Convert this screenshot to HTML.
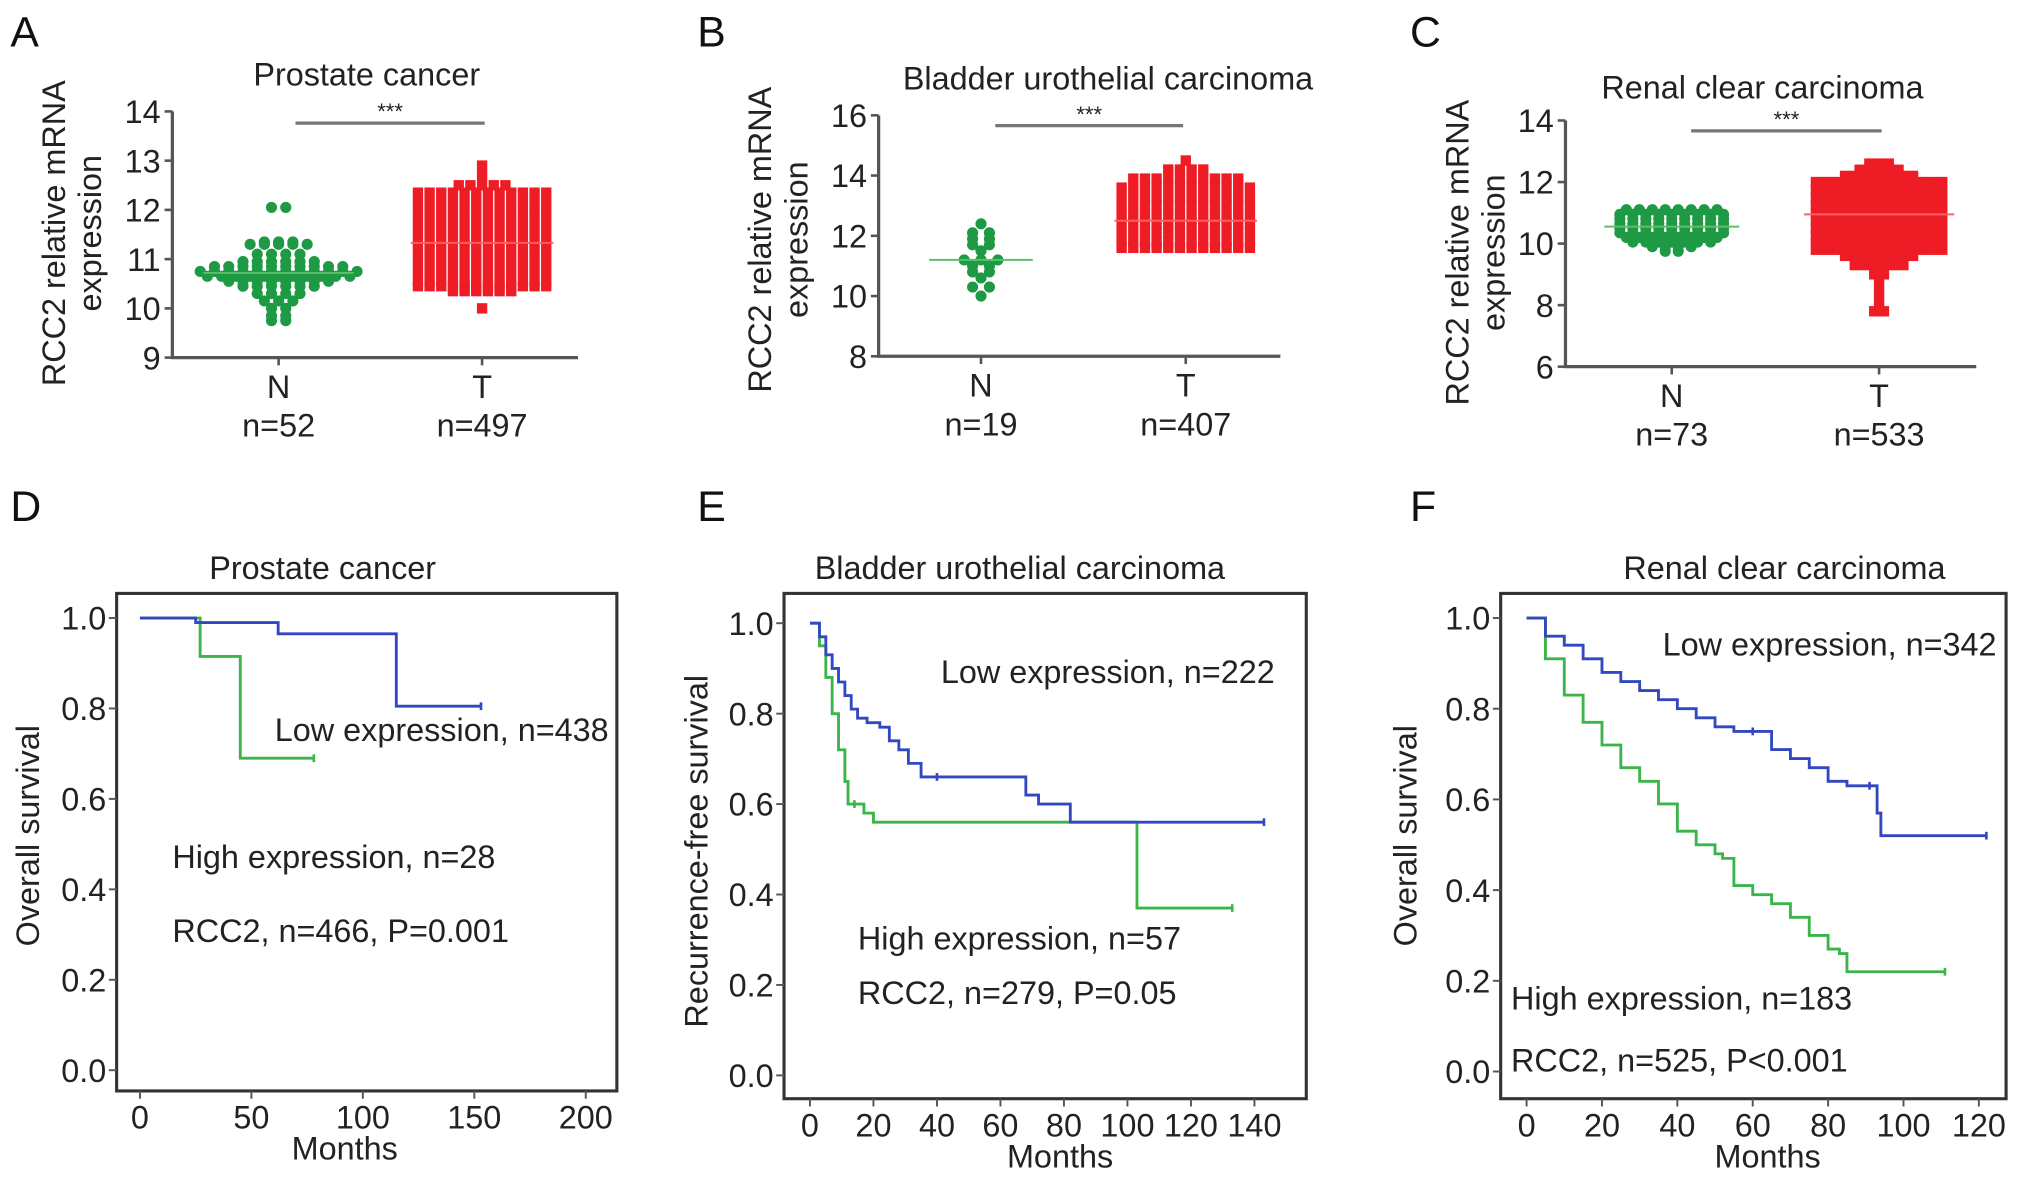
<!DOCTYPE html>
<html><head><meta charset="utf-8"><style>
html,body{margin:0;padding:0;background:#fff;}
svg{display:block;font-family:"Liberation Sans",Arial,sans-serif;}
</style></head><body>
<svg id="fig" width="2032" height="1192" viewBox="0 0 1568 920" preserveAspectRatio="none" xmlns="http://www.w3.org/2000/svg">
<rect width="1568" height="920" fill="#fff"/>
<g font-size="33" fill="#111">
<text x="8" y="36">A</text>
<text x="538" y="36">B</text>
<text x="1088" y="36">C</text>
<text x="8" y="402">D</text>
<text x="538" y="402">E</text>
<text x="1088" y="402">F</text>
</g>
<g id="plots"></g>
</svg>
<script>
// ---------- scatter data (bin value, count) ----------
const aNVals=[12.05,11.35,11.3,11.1,10.95,10.85,10.75,10.65,10.55,10.45,10.3,10.15,10.0,9.85,9.75];
const aNCounts=[2,3,5,4,6,10,12,11,8,6,4,3,2,2,2];
const aTVals=[12.9,12.7,12.5,12.35,12.15,11.95,11.75,11.55,11.35,11.15,10.95,10.75,10.55,10.45,10.35,10.0];
const aTCounts=[1,1,5,12,12,12,12,12,12,12,12,12,12,12,6,1];
const bNVals=[12.4,12.1,11.9,11.7,11.5,11.2,11.0,10.8,10.6,10.3,10.0];
const bNCounts=[1,2,2,2,1,3,2,2,1,2,1];
const bTVals=[14.5,14.2,13.9,13.6,13.3,13.0,12.7,12.4,12.1,11.8,11.6];
const bTCounts=[1,4,10,12,12,12,12,12,12,12,12];
const cNVals=[11.1,10.95,10.8,10.65,10.5,10.35,10.2,10.05,9.9,9.75];
const cNCounts=[8,9,9,9,9,9,8,7,4,2];
const cTVals=[12.6,12.4,12.2,12.0,11.75,11.5,11.25,11.0,10.75,10.5,10.25,10.0,9.8,9.6,9.3,9.0,8.7,8.4,8.1,7.8];
const cTCounts=[3,5,8,14,14,14,14,14,14,14,14,14,14,8,6,2,1,1,1,2];
const aMeans=[10.72,11.33], bMeans=[11.2,12.5], cMeans=[10.55,10.95];
const aTicks=[9,10,11,12,13,14], bTicks=[8,10,12,14,16], cTicks=[6,8,10,12,14];

// ---------- survival data ----------
const dLowT=[0,25,62,115,153], dLowS=[1,0.99,0.965,0.805,0.805];
const dHighT=[0,27,45,78], dHighS=[1,0.915,0.69,0.69];
const eLowT=[0,3,5,7,9,11,13,15,18,22,25,28,31,35,40,68,72,82,143];
const eLowS=[1,0.97,0.93,0.9,0.87,0.84,0.81,0.79,0.78,0.77,0.74,0.72,0.69,0.66,0.66,0.62,0.6,0.56,0.56];
const eHighT=[0,3,5,7,9,11,12,14,17,20,103,133];
const eHighS=[1,0.95,0.88,0.8,0.72,0.65,0.6,0.6,0.58,0.56,0.37,0.37];
const fLowT=[0,5,10,15,20,25,30,35,40,45,50,55,60,65,70,75,80,85,91,93,94,122];
const fLowS=[1,0.96,0.94,0.91,0.88,0.86,0.84,0.82,0.8,0.78,0.76,0.75,0.75,0.71,0.69,0.67,0.64,0.63,0.63,0.57,0.52,0.52];
const fHighT=[0,5,10,15,20,25,30,35,40,45,50,52,55,60,65,70,75,80,83,85,111];
const fHighS=[1,0.91,0.83,0.77,0.72,0.67,0.64,0.59,0.53,0.5,0.48,0.47,0.41,0.39,0.37,0.34,0.3,0.27,0.26,0.22,0.22];

const NS="http://www.w3.org/2000/svg";
const root=document.getElementById('plots');
const FS=25;
function el(tag,attrs,parent){const e=document.createElementNS(NS,tag);for(const k in attrs)e.setAttribute(k,attrs[k]);(parent||root).appendChild(e);return e;}
function txt(s,x,y,size,anchor,parent,rot){const t=el('text',{x:x,y:y,'font-size':size,'text-anchor':anchor||'start',fill:'#222'},parent);if(rot)t.setAttribute('transform','rotate(-90 '+x+' '+y+')');t.textContent=s;return t;}

function scatterPanel(cfg){
  const g=el('g',{});
  
  
  const y=v=>cfg.y0+(v-cfg.tmin)/(cfg.tmax-cfg.tmin)*(cfg.y1-cfg.y0);
  const ax=el('path',{d:`M${cfg.ax} ${y(cfg.tmax)} V${cfg.y0} H${cfg.xe}`,stroke:'#555','stroke-width':2.5,fill:'none'},g);
  
  
  cfg.ticks.forEach(v=>{el('line',{x1:cfg.ax-6,x2:cfg.ax,y1:y(v),y2:y(v),stroke:'#555','stroke-width':2},g);
    const t=txt(String(v),cfg.ax-9,y(v)+9,FS,'end',g);});
  [cfg.nx,cfg.tx].forEach(x=>el('line',{x1:x,x2:x,y1:cfg.y0,y2:cfg.y0+6,stroke:'#555','stroke-width':2},g));
  const tt=txt(cfg.title,cfg.titleX,cfg.titleY,FS,'middle',g);
  
  el('line',{x1:cfg.sig[0],x2:cfg.sig[1],y1:cfg.sig[2],y2:cfg.sig[2],stroke:'#777','stroke-width':2.5},g);
  const st=txt('***',(cfg.sig[0]+cfg.sig[1])/2,cfg.sig[2]-3,17,'middle',g);
  const yl=txt('RCC2 relative mRNA',cfg.ylx,cfg.yly,FS,'middle',g,true);
  txt('expression',cfg.ylx+28,cfg.yly,FS,'middle',g,true);
  txt('N',cfg.nx,cfg.y0+31,FS,'middle',g);txt('T',cfg.tx,cfg.y0+31,FS,'middle',g);
  txt(cfg.nl,cfg.nx,cfg.y0+61,FS,'middle',g);txt(cfg.tl,cfg.tx,cfg.y0+61,FS,'middle',g);
  cfg.nVals.forEach((v,i)=>{const c=cfg.nCounts[i];for(let k=0;k<c;k++){
    const d=el('circle',{cx:cfg.nx+(k-(c-1)/2)*cfg.nsp,cy:y(v),r:4.3,fill:'#1e9a45'},g);
    
    }});
  cfg.tVals.forEach((v,i)=>{const c=cfg.tCounts[i];for(let k=0;k<c;k++){
    const d=el('rect',{x:cfg.tx+(k-(c-1)/2)*cfg.tsp-4,y:y(v)-4,width:8,height:8,fill:'#ee1c25'},g);
    
    }});
  el('line',{x1:cfg.nx-cfg.mw[0],x2:cfg.nx+cfg.mw[0],y1:y(cfg.means[0]),y2:y(cfg.means[0]),stroke:'#5cbf6a','stroke-width':1.5},g);
  el('line',{x1:cfg.tx-cfg.mw[1],x2:cfg.tx+cfg.mw[1],y1:y(cfg.means[1]),y2:y(cfg.means[1]),stroke:'#ff6060','stroke-width':1.5},g);
}
scatterPanel({name:'panel-a-scatter',ax:133,xe:446,y0:276,y1:86,tmin:9,tmax:14,ticks:aTicks,nx:215,tx:372,title:'Prostate cancer',titleX:283,titleY:66,sig:[228,374,95],ylx:50,yly:180,nl:'n=52',tl:'n=497',nVals:aNVals,nCounts:aNCounts,tVals:aTVals,tCounts:aTCounts,nsp:11,tsp:9,means:aMeans,mw:[58,55]});
scatterPanel({name:'panel-b-scatter',ax:678,xe:988,y0:275,y1:89,tmin:8,tmax:16,ticks:bTicks,nx:757,tx:915,title:'Bladder urothelial carcinoma',titleX:855,titleY:69,sig:[768,913,97],ylx:595,yly:185,nl:'n=19',tl:'n=407',nVals:bNVals,nCounts:bNCounts,tVals:bTVals,tCounts:bTCounts,nsp:13,tsp:9,means:bMeans,mw:[40,55]});
scatterPanel({name:'panel-c-scatter',ax:1208,xe:1525,y0:283,y1:93,tmin:6,tmax:14,ticks:cTicks,nx:1290,tx:1450,title:'Renal clear carcinoma',titleX:1360,titleY:76,sig:[1305,1452,101],ylx:1133,yly:195,nl:'n=73',tl:'n=533',nVals:cNVals,nCounts:cNCounts,tVals:cTVals,tCounts:cTCounts,nsp:10,tsp:7.5,means:cMeans,mw:[52,58]});

function kmPanel(cfg){
  const g=el('g',{});
  
  
  const X=t=>cfg.x0+(t-cfg.xmin)/(cfg.xmax-cfg.xmin)*(cfg.x1-cfg.x0);
  const Y=s=>cfg.y0+s*(cfg.y1-cfg.y0);
  const box=el('rect',{x:cfg.box[0],y:cfg.box[1],width:cfg.box[2]-cfg.box[0],height:cfg.box[3]-cfg.box[1],fill:'none',stroke:'#333','stroke-width':2.4},g);
  
  
  [0,0.2,0.4,0.6,0.8,1.0].forEach(v=>{el('line',{x1:cfg.box[0]-6,x2:cfg.box[0],y1:Y(v),y2:Y(v),stroke:'#555','stroke-width':1.5},g);
    const t=txt(v.toFixed(1),cfg.box[0]-8,Y(v)+9,FS,'end',g);});
  cfg.xt.forEach(v=>{el('line',{x1:X(v),x2:X(v),y1:cfg.box[3],y2:cfg.box[3]+6,stroke:'#555','stroke-width':1.5},g);
    const t=txt(String(v),X(v),cfg.box[3]+29,FS,'middle',g);});
  const mx=txt('Months',cfg.mx,cfg.box[3]+53,FS,'middle',g);
  const yl=txt(cfg.ylab,cfg.ylx,cfg.yly,FS,'middle',g,true);
  const tt=txt(cfg.title,cfg.titleX,cfg.box[1]-11,FS,'middle',g);
  function curve(T,S,color,nm){
    let d=`M${X(T[0])} ${Y(S[0])}`;
    for(let i=1;i<T.length;i++){d+=` H${X(T[i])} V${Y(S[i])}`;}
    const p=el('path',{d:d,stroke:color,'stroke-width':2.2,fill:'none'},g);
    
    
    for(let i=1;i<T.length;i++){if(S[i]===S[i-1]||i===T.length-1){el('line',{x1:X(T[i]),x2:X(T[i]),y1:Y(S[i])-3,y2:Y(S[i])+3,stroke:color,'stroke-width':2},g);}}
  }
  curve(cfg.hT,cfg.hS,'#3bb54a','high-expression-curve');
  curve(cfg.lT,cfg.lS,'#3347c0','low-expression-curve');
  cfg.labels.forEach(l=>{const t=txt(l[0],l[1],l[2],FS,'start',g);});
}
kmPanel({name:'panel-d-km',box:[90,458,476,842],x0:108,x1:452,xmin:0,xmax:200,y0:826,y1:477,xt:[0,50,100,150,200],mx:266,ylab:'Overall survival',ylx:30,yly:645,title:'Prostate cancer',titleX:249,
  lT:dLowT,lS:dLowS,hT:dHighT,hS:dHighS,labels:[['Low expression, n=438',212,572],['High expression, n=28',133,670],['RCC2, n=466, P=0.001',133,727]]});
kmPanel({name:'panel-e-km',box:[605,458,1008,848],x0:625,x1:968,xmin:0,xmax:140,y0:830,y1:481,xt:[0,20,40,60,80,100,120,140],mx:818,ylab:'Recurrence-free survival',ylx:546,yly:657,title:'Bladder urothelial carcinoma',titleX:787,
  lT:eLowT,lS:eLowS,hT:eHighT,hS:eHighS,labels:[['Low expression, n=222',726,527],['High expression, n=57',662,733],['RCC2, n=279, P=0.05',662,775]]});
kmPanel({name:'panel-f-km',box:[1158,458,1548,848],x0:1178,x1:1527,xmin:0,xmax:120,y0:827,y1:477,xt:[0,20,40,60,80,100,120],mx:1364,ylab:'Overall survival',ylx:1093,yly:645,title:'Renal clear carcinoma',titleX:1377,
  lT:fLowT,lS:fLowS,hT:fHighT,hS:fHighS,labels:[['Low expression, n=342',1283,506],['High expression, n=183',1166,779],['RCC2, n=525, P<0.001',1166,827]]});
</script>
</body></html>
